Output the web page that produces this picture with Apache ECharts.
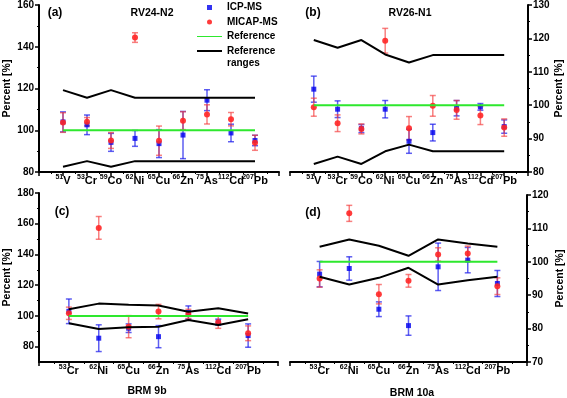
<!DOCTYPE html>
<html><head><meta charset="utf-8">
<script src="https://cdn.jsdelivr.net/npm/echarts@6/dist/echarts.min.js"></script>
<style>html,body{margin:0;padding:0;background:#fff}#c{width:567px;height:398px}</style>
</head><body><div id="c"></div>
<script>
// Categories (isotope mass numbers + element symbols)
const isoAB = ['51','53','59','62','65','66','75','112','207'];
const elemAB = ['V','Cr','Co','Ni','Cu','Zn','As','Cd','Pb'];
const isoCD = ['53','62','65','66','75','112','207'];
const elemCD = ['Cr','Ni','Cu','Zn','As','Cd','Pb'];

// Panel (a) RV24-N2
const aIcp = [104, 102.6, 94.2, 96.1, 93.6, 97.7, 114.4, 98.7, 95.1];
const aIcpErr = [4.8, 4.7, 4.3, 3.8, 6.7, 11.3, 5.0, 4.2, 2.5];
const aMicap = [103.7, 104.1, 95.1, 144.4, 95.0, 104.6, 107.6, 105.3, 94.0];
const aMicapErr = [4.7, 2.0, 3.8, 2.3, 7.0, 4.3, 4.6, 3.2, 3.6];
const aRef = [100, 100, 100, 100, 100, 100, 100, 100, 100];
const aUpper = [119.2, 115.6, 119.2, 115.6, 115.6, 115.6, 115.6, 115.6, 115.6];
const aLower = [82.5, 85.2, 82.5, 85.2, 85.2, 85.2, 85.2, 85.2, 85.2];

// Panel (b) RV26-N1
const bIcp = [104.8, 98.8, 93.0, 98.8, 89.2, 91.8, 99.1, 99.5, 93.6];
const bIcpErr = [3.9, 2.5, 1.2, 2.6, 3.6, 2.5, 2.3, 1.0, 2.0];
const bMicap = [99.4, 94.6, 92.9, 119.3, 93.1, 99.8, 98.6, 96.9, 93.3];
const bMicapErr = [2.7, 2.5, 1.5, 3.7, 3.5, 3.1, 2.8, 2.7, 2.6];
const bRef = [100, 100, 100, 100, 100, 100, 100, 100, 100];
const bUpper = [119.5, 117.2, 119.5, 115.2, 112.8, 115.0, 115.0, 115.0, 115.0];
const bLower = [82.4, 84.6, 82.4, 86.2, 88.2, 86.2, 86.2, 86.2, 86.2];

// Panel (c) BRM 9b
const cIcp = [103.0, 85.5, 92.0, 86.5, 102.2, 95.9, 87.2];
const cIcpErr = [8.0, 8.7, 2.8, 7.2, 4.3, 2.0, 7.6];
const cMicap = [101.7, 157.3, 93.0, 102.8, 101.3, 95.9, 88.7];
const cMicapErr = [4.0, 7.4, 7.2, 4.7, 3.0, 4.0, 4.8];
const cRef = [100, 100, 100, 100, 100, 100, 100];
const cUpper = [104.3, 108.0, 107.2, 106.8, 102.7, 105.0, 101.5];
const cLower = [95.2, 91.5, 92.6, 93.0, 97.4, 94.1, 97.8];

// Panel (d) BRM 10a
const dIcp = [96.3, 98.0, 85.8, 80.9, 98.5, 100.5, 93.5];
const dIcpErr = [3.8, 3.5, 2.2, 2.9, 7.1, 3.8, 3.9];
const dMicap = [95.0, 114.5, 90.3, 94.3, 102.2, 102.5, 92.7];
const dMicapErr = [2.6, 2.4, 2.9, 1.9, 2.0, 2.2, 2.5];
const dRef = [100, 100, 100, 100, 100, 100, 100];
const dUpper = [104.5, 106.7, 104.8, 101.8, 106.7, 105.5, 104.5];
const dLower = [95.5, 93.2, 95.2, 98.2, 93.2, 94.5, 95.5];

// Tick labels of the panel (c) y axis
const yTicksC = [80, 100, 120, 140, 160, 180];
const yMinorC = [90, 110, 130, 150, 170];

const FF = "'Liberation Sans', Arial, sans-serif";
const pts = arr => arr.map((v, i) => [i + 1, v]);
const errs = (vals, e) => vals.map((v, i) => [i + 1, v - e[i], v + e[i]]);

function xAx(gi, max, iso, elem) {
  return {
    type: 'value', gridIndex: gi, min: 0, max: max, interval: 1,
    axisLine: { show: true, onZero: false, lineStyle: { color: '#000', width: 2 } },
    axisTick: { show: true, length: 4, lineStyle: { color: '#000', width: 1.5 } },
    minorTick: { show: true, splitNumber: 2, length: 2, lineStyle: { color: '#000', width: 1 } },
    splitLine: { show: false },
    axisLabel: {
      margin: 2, color: '#000',
      formatter: v => (v >= 1 && v <= iso.length) ? '{s|' + iso[v - 1] + '}{e|' + elem[v - 1] + '}' : '',
      rich: {
        s: { fontSize: 7, fontWeight: 'bold', fontFamily: FF, color: '#000', verticalAlign: 'top', lineHeight: 8 },
        e: { fontSize: 11, fontWeight: 'bold', fontFamily: FF, color: '#000', verticalAlign: 'bottom', lineHeight: 12, padding: [3, 0, 0, 0] }
      }
    }
  };
}
function yAx(gi, pos, min, max, interval, gap) {
  return {
    type: 'value', gridIndex: gi, position: pos, min: min, max: max, interval: interval,
    axisLine: { show: true, onZero: false, lineStyle: { color: '#000', width: 2 } },
    axisTick: { show: true, length: 4, lineStyle: { color: '#000', width: 1.5 } },
    minorTick: { show: true, splitNumber: 2, length: 2, lineStyle: { color: '#000', width: 1 } },
    splitLine: { show: false },
    axisLabel: { margin: 5, color: '#000', fontSize: 10, fontWeight: 'bold', fontFamily: FF },
    name: 'Percent [%]', nameLocation: 'middle', nameGap: gap,
    nameTextStyle: { color: '#000', fontSize: 10.5, fontWeight: 'bold', fontFamily: FF }
  };
}

function errRender(color) {
  return function (params, api) {
    const x = api.value(0), lo = api.value(1), hi = api.value(2);
    const p1 = api.coord([x, hi]), p2 = api.coord([x, lo]);
    const w = 3;
    const st = { stroke: color, lineWidth: 1.5 };
    return {
      type: 'group', children: [
        { type: 'line', shape: { x1: p1[0], y1: p1[1], x2: p2[0], y2: p2[1] }, style: st },
        { type: 'line', shape: { x1: p1[0] - w, y1: p1[1], x2: p1[0] + w, y2: p1[1] }, style: st },
        { type: 'line', shape: { x1: p2[0] - w, y1: p2[1], x2: p2[0] + w, y2: p2[1] }, style: st }
      ]
    };
  };
}

function panelSeries(xi, yi, icp, icpE, mic, micE, ref, up, low) {
  const base = { xAxisIndex: xi, yAxisIndex: yi };
  return [
    Object.assign({ type: 'line', name: 'Reference ranges', data: pts(up), symbol: 'none', lineStyle: { color: '#000', width: 2 }, itemStyle: { color: '#000' } }, base),
    Object.assign({ type: 'line', name: 'Reference ranges', data: pts(low), symbol: 'none', lineStyle: { color: '#000', width: 2 }, itemStyle: { color: '#000' } }, base),
    Object.assign({ type: 'line', name: 'Reference', data: pts(ref), symbol: 'none', lineStyle: { color: '#2ee82e', width: 2 }, itemStyle: { color: '#2ee82e' } }, base),
    Object.assign({ type: 'custom', name: 'icpErr', data: errs(icp, icpE), encode: { x: 0, y: [1, 2] }, renderItem: errRender('rgba(25,25,235,0.7)') }, base),
    Object.assign({ type: 'custom', name: 'micErr', data: errs(mic, micE), encode: { x: 0, y: [1, 2] }, renderItem: errRender('rgba(245,60,60,0.65)') }, base),
    Object.assign({ type: 'scatter', name: 'ICP-MS', data: pts(icp), symbol: 'rect', symbolSize: 5, itemStyle: { color: '#0000ee' } }, base),
    Object.assign({ type: 'scatter', name: 'MICAP-MS', data: pts(mic), symbol: 'circle', symbolSize: 6, itemStyle: { color: '#ff2626', opacity: 0.9 } }, base)
  ];
}

const yC = yAx(2, 'left', 70, 180, null, 26);
delete yC.interval;
yC.minorTick = { show: false };
yC.axisLabel.customValues = yTicksC;
yC.axisTick.customValues = yTicksC;
const yCminor = {
  type: 'value', gridIndex: 2, position: 'left', offset: 0, min: 70, max: 180,
  axisLine: { show: false }, splitLine: { show: false }, axisLabel: { show: false },
  axisTick: { show: true, length: 2, customValues: yMinorC, lineStyle: { color: '#000', width: 1 } }
};

const txt = (t, x, y, size, align) => ({
  type: 'text', x: x, y: y,
  style: { text: t, fill: '#000', font: 'bold ' + size + 'px ' + FF, align: align || 'center', verticalAlign: 'middle' }
});

const chart = echarts.init(document.getElementById('c'), null, { renderer: 'canvas' });
chart.setOption({
  animation: false,
  backgroundColor: '#fff',
  grid: [
    { left: 39, top: 5, width: 240, height: 167 },
    { left: 290, top: 5, width: 238, height: 167 },
    { left: 39, top: 193, width: 239, height: 169 },
    { left: 290, top: 195, width: 240, height: 167 }
  ],
  xAxis: [xAx(0, 10, isoAB, elemAB), xAx(1, 10, isoAB, elemAB), xAx(2, 8, isoCD, elemCD), xAx(3, 8, isoCD, elemCD)],
  yAxis: [
    yAx(0, 'left', 80, 160, 20, 26),
    yAx(1, 'right', 80, 130, 10, 24),
    yC,
    yCminor,
    yAx(3, 'right', 70, 120, 10, 28)
  ],
  legend: {
    data: [
      { name: 'ICP-MS', icon: 'path://M0 0H10V10H0Z' },
      { name: 'MICAP-MS', icon: 'circle' },
      { name: 'Reference', icon: 'path://M0 0H25V1H0Z' },
      { name: 'Reference ranges', icon: 'path://M0 0H25V2H0Z' }
    ],
    formatter: n => n === 'Reference ranges' ? 'Reference' : n,
    orient: 'vertical', left: 197, top: 1, padding: 0,
    itemWidth: 25, itemHeight: 5, itemGap: 1.5, selectedMode: false,
    textStyle: { fontSize: 10, fontWeight: 'bold', fontFamily: FF, color: '#000', lineHeight: 13 }
  },
  graphic: [
    txt('ranges', 227, 63, 10, 'left'),
    txt('(a)', 55, 13, 12),
    txt('RV24-N2', 152, 13, 10.5),
    txt('(b)', 313, 13, 12),
    txt('RV26-N1', 410, 13, 10.5),
    txt('(c)', 62, 212, 12),
    txt('(d)', 313, 213, 12),
    txt('BRM 9b', 147, 391, 10.5),
    txt('BRM 10a', 412, 393, 10.5)
  ],
  series: [].concat(
    panelSeries(0, 0, aIcp, aIcpErr, aMicap, aMicapErr, aRef, aUpper, aLower),
    panelSeries(1, 1, bIcp, bIcpErr, bMicap, bMicapErr, bRef, bUpper, bLower),
    panelSeries(2, 2, cIcp, cIcpErr, cMicap, cMicapErr, cRef, cUpper, cLower),
    panelSeries(3, 4, dIcp, dIcpErr, dMicap, dMicapErr, dRef, dUpper, dLower)
  )
});
</script>
</body></html>
